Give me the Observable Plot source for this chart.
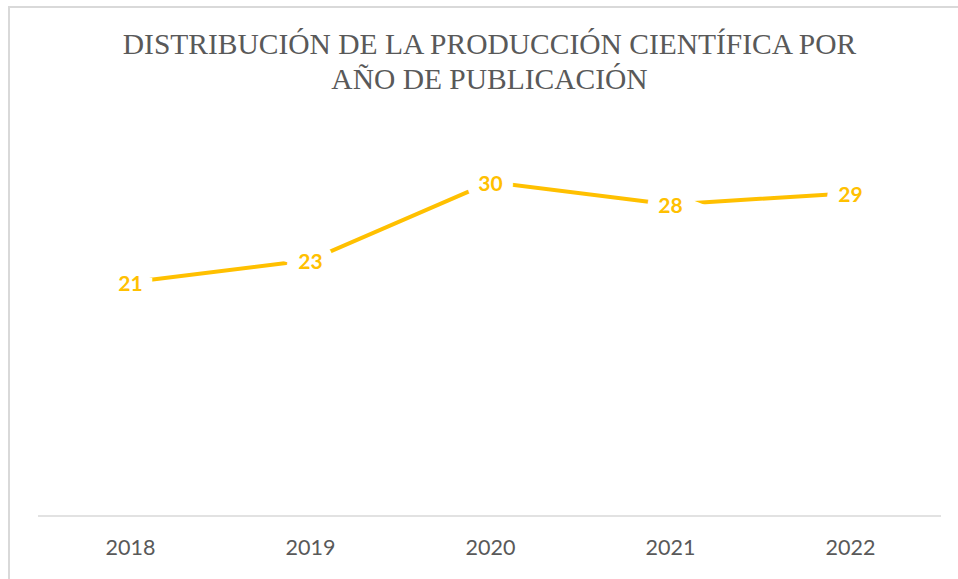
<!DOCTYPE html>
<html>
<head>
<meta charset="utf-8">
<script src="https://cdn.jsdelivr.net/npm/d3@7"></script>
<script src="https://cdn.jsdelivr.net/npm/@observablehq/plot@0.6"></script>
<style>
  html, body { margin: 0; padding: 0; background: #fff; }
  #frame { position: absolute; left: 8px; top: 6px; width: 1000px; height: 1000px;
           border-left: 2px solid #d9d9d9; border-top: 2px solid #d9d9d9; box-sizing: border-box; }
  #wrap { position: absolute; left: 0; top: 0; width: 958px; height: 579px; }
  #title { height: 110px; box-sizing: border-box; padding-top: 27px; padding-left: 21px; text-align: center;
           font-family: "Liberation Serif", "DejaVu Serif", serif; font-size: 29.5px; line-height: 35px;
           color: #595959; white-space: nowrap; }
</style>
</head>
<body>
<div id="frame"></div>
<div id="wrap">
  <div id="title">DISTRIBUCIÓN DE LA PRODUCCIÓN CIENTÍFICA POR<br>AÑO DE PUBLICACIÓN</div>
  <div id="chart"></div>
</div>
<script>
const years = ["2018", "2019", "2020", "2021", "2022"];
const counts = [21, 23, 30, 28, 29];
const data = years.map((y, i) => ({year: y, value: counts[i]}));

const chart = Plot.plot({
  width: 958,
  height: 469,
  marginTop: 16,
  marginBottom: 63.5,
  marginLeft: 38,
  marginRight: 17,
  style: {background: "transparent", overflow: "visible"},
  x: {type: "point", domain: years, padding: 0.5, label: null},
  y: {domain: [0, 35], axis: null},
  marks: [
    Plot.ruleY([0], {stroke: "#d9d9d9", strokeWidth: 1.5}),
    Plot.axisX({tickSize: 0, tickPadding: 24, fontSize: 21.5, fill: "#595959",
      fontFamily: "Lato, 'Open Sans', sans-serif", label: null}),
    Plot.line(data, {x: "year", y: "value", stroke: "#FFC000", strokeWidth: 4}),
    Plot.text(data, {x: "year", y: "value", text: d => String(d.value),
      fill: "#FFC000", stroke: "white", strokeWidth: 22, paintOrder: "stroke",
      strokeLinejoin: "miter", fontSize: 21, fontWeight: "bold",
      fontFamily: "Lato, 'Open Sans', sans-serif", dy: 2})
  ]
});
document.getElementById("chart").appendChild(chart);
</script>
</body>
</html>
